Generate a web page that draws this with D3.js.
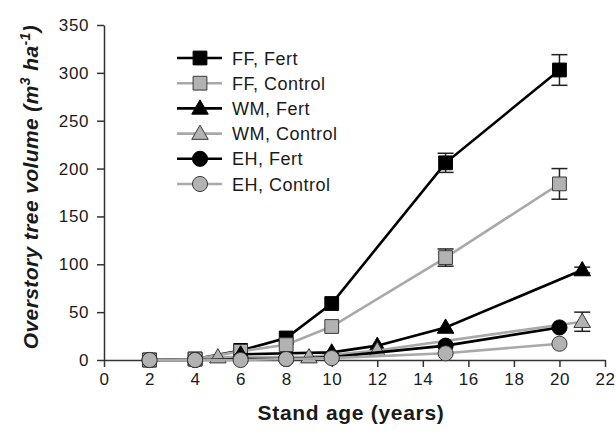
<!DOCTYPE html>
<html>
<head>
<meta charset="utf-8">
<script src="https://cdn.jsdelivr.net/npm/d3@7"></script>
<style>
  html, body { margin: 0; padding: 0; background: #fff; }
  svg { display: block; font-family: "Liberation Sans", Arial, sans-serif; }
</style>
</head>
<body>
<svg id="chart" width="616" height="433"></svg>
<script>
// Stand age (years) and overstory tree volume (m3 ha-1) by site and treatment
const ageFF = [2, 4, 6, 8, 10, 15, 20];
const ffFert = [0, 1, 10, 23, 59, 206, 303];
const ffFertErr = [0, 0, 0, 0, 0, 10, 16];
const ffControl = [0, 1, 9, 16, 35, 107, 184];
const ffControlErr = [0, 0, 0, 0, 0, 9, 16];

const ageWMFert = [6, 10, 12, 15, 21];
const wmFert = [6, 8, 15, 34, 94];
const wmFertErr = [0, 0, 0, 0, 3];
const ageWMControl = [5, 9, 12, 21];
const wmControl = [3, 3, 10, 40];
const wmControlErr = [0, 0, 0, 10];

const ageEH = [2, 4, 6, 8, 10, 15, 20];
const ehFert = [0, 0, 1, 1, 3, 15, 34];
const ehFertErr = [0, 0, 0, 0, 0, 0, 0];
const ehControl = [0, 0, 0, 1, 2, 7, 17];
const ehControlErr = [0, 0, 0, 0, 0, 0, 0];

const seriesNames = ["FF, Fert", "FF, Control", "WM, Fert", "WM, Control", "EH, Fert", "EH, Control"];
const xTicks = [0, 2, 4, 6, 8, 10, 12, 14, 16, 18, 20, 22];
const yTicks = [0, 50, 100, 150, 200, 250, 300, 350];

const FERT = "#000000";
const CTRL_LINE = "#a9a9a9";
const CTRL_FILL = "#b2b2b2";
const CTRL_EDGE = "#3a3a3a";
const TEXT = "#1a1a1a";

function build(name, ages, vals, errs, shape, fert) {
  return {
    name, shape, fert,
    points: ages.map((a, i) => ({ x: a, y: vals[i], e: errs[i] }))
  };
}

const series = [
  build(seriesNames[0], ageFF, ffFert, ffFertErr, "square", true),
  build(seriesNames[1], ageFF, ffControl, ffControlErr, "square", false),
  build(seriesNames[2], ageWMFert, wmFert, wmFertErr, "triangle", true),
  build(seriesNames[3], ageWMControl, wmControl, wmControlErr, "triangle", false),
  build(seriesNames[4], ageEH, ehFert, ehFertErr, "circle", true),
  build(seriesNames[5], ageEH, ehControl, ehControlErr, "circle", false)
];

const svg = d3.select("#chart");
const x = d3.scaleLinear().domain([0, 22]).range([104, 605]);
const y = d3.scaleLinear().domain([0, 350]).range([360, 25]);

const symbolFor = {
  square: d3.symbol().type(d3.symbolSquare).size(190),
  triangle: d3.symbol().type(d3.symbolTriangle).size(118),
  circle: d3.symbol().type(d3.symbolCircle).size(180)
};

// Axes
const axisColor = "#333";
const gx = svg.append("g")
  .attr("transform", `translate(0,${y(0)})`)
  .call(d3.axisBottom(x).tickValues(xTicks).tickSize(7).tickPadding(6).tickSizeOuter(0));
const gy = svg.append("g")
  .attr("transform", `translate(${x(0)},0)`)
  .call(d3.axisLeft(y).tickValues(yTicks).tickSize(7).tickPadding(8).tickSizeOuter(0));

[gx, gy].forEach(g => {
  g.select(".domain").attr("stroke", axisColor).attr("stroke-width", 1.5);
  g.selectAll(".tick line").attr("stroke", axisColor).attr("stroke-width", 1.5);
  g.selectAll(".tick text")
    .attr("fill", TEXT)
    .style("font-size", "17px")
    .style("letter-spacing", "0.6px")
    .style("font-family", "'Liberation Sans', Arial, sans-serif");
});

// Axis titles
svg.append("text")
  .attr("x", 351).attr("y", 420)
  .attr("text-anchor", "middle")
  .style("font-size", "21px").style("font-weight", "bold")
  .style("letter-spacing", "0.7px")
  .attr("fill", TEXT)
  .text("Stand age (years)");

const yt = svg.append("text")
  .attr("transform", "translate(38,187) rotate(-90)")
  .attr("text-anchor", "middle")
  .style("font-size", "21px").style("font-weight", "bold").style("font-style", "italic")
  .style("letter-spacing", "0.4px")
  .attr("fill", TEXT);
yt.append("tspan").text("Overstory tree volume (m");
yt.append("tspan").attr("dy", -8).style("font-size", "14px").text("3");
yt.append("tspan").attr("dy", 8).text(" ha");
yt.append("tspan").attr("dy", -8).style("font-size", "14px").text("-1");
yt.append("tspan").attr("dy", 8).text(")");

// Series: lines, error bars, markers
const line = d3.line().x(d => x(d.x)).y(d => y(d.y));
const plot = svg.append("g");

series.forEach(s => {
  const g = plot.append("g");
  g.append("path")
    .datum(s.points)
    .attr("d", line)
    .attr("fill", "none")
    .attr("stroke", s.fert ? FERT : CTRL_LINE)
    .attr("stroke-width", 2.6);

  const eb = g.selectAll(".eb").data(s.points.filter(p => p.e > 0)).enter().append("g")
    .attr("stroke", "#222").attr("stroke-width", 1.5);
  eb.append("line")
    .attr("x1", d => x(d.x)).attr("x2", d => x(d.x))
    .attr("y1", d => y(d.y + d.e)).attr("y2", d => y(d.y - d.e));
  eb.append("line")
    .attr("x1", d => x(d.x) - 8).attr("x2", d => x(d.x) + 8)
    .attr("y1", d => y(d.y + d.e)).attr("y2", d => y(d.y + d.e));
  eb.append("line")
    .attr("x1", d => x(d.x) - 8).attr("x2", d => x(d.x) + 8)
    .attr("y1", d => y(d.y - d.e)).attr("y2", d => y(d.y - d.e));

  g.selectAll(".mk").data(s.points).enter().append("path")
    .attr("d", symbolFor[s.shape])
    .attr("transform", d => `translate(${x(d.x)},${y(d.y) + (s.shape === "triangle" ? 1 : 0)})`)
    .attr("fill", s.fert ? FERT : CTRL_FILL)
    .attr("stroke", s.fert ? FERT : CTRL_EDGE)
    .attr("stroke-width", 1);
});

// Legend
const legend = svg.append("g");
series.forEach((s, i) => {
  const ly = 58 + i * 25.2;
  const row = legend.append("g").attr("transform", `translate(0,${ly})`);
  row.append("line")
    .attr("x1", 177).attr("x2", 222).attr("y1", 0).attr("y2", 0)
    .attr("stroke", s.fert ? FERT : CTRL_LINE).attr("stroke-width", 2.6);
  row.append("path")
    .attr("d", symbolFor[s.shape])
    .attr("transform", `translate(200,${s.shape === "triangle" ? 1 : 0})`)
    .attr("fill", s.fert ? FERT : CTRL_FILL)
    .attr("stroke", s.fert ? FERT : CTRL_EDGE)
    .attr("stroke-width", 1);
  row.append("text")
    .attr("x", 232).attr("y", 6.5)
    .style("font-size", "18px")
    .style("letter-spacing", "0.5px")
    .attr("fill", TEXT)
    .text(s.name);
});
</script>
</body>
</html>
